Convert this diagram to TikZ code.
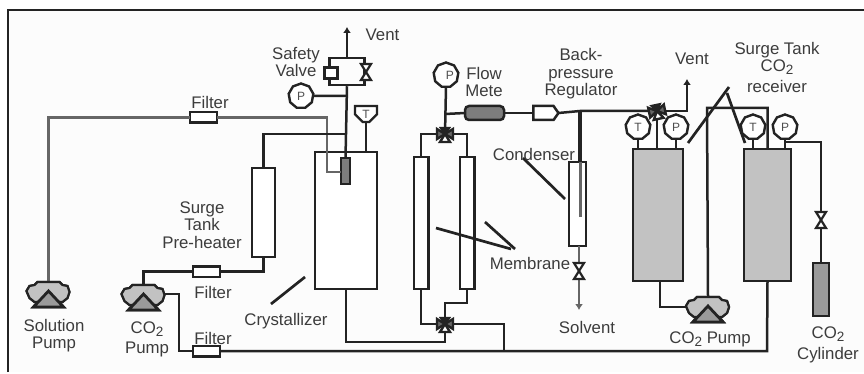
\documentclass[tikz,border=0pt]{standalone}
\usepackage{fontspec}
\setmainfont{Liberation Sans}
\usetikzlibrary{arrows.meta,shapes.geometric,shapes.misc,shapes.symbols}
\definecolor{ink}{HTML}{232323}
\definecolor{txt}{HTML}{3C3C3C}
\definecolor{lgray}{HTML}{C2C2C2}
\definecolor{mgray}{HTML}{9A9A9A}
\definecolor{pgray}{HTML}{666666}
\newcommand{\subtwo}{\raisebox{-0.35ex}{\fontsize{13.5}{13.5}\selectfont 2}}
\tikzset{
  x=1pt,y=-1pt,
  pipe/.style={draw=ink,line width=2.5pt,line join=miter},
  gpipe/.style={draw=pgray,line width=2.6pt},
  leader/.style={draw=ink,line width=2.7pt},
  ventarrow/.style={-{Latex[width=8pt,length=6pt]}},
  box/.style={draw=ink,line width=2.5pt,inner sep=0pt,outer sep=0pt,fill=white,rectangle},
  tank/.style={box,fill=lgray},
  filterbox/.style={box,minimum width=27pt,minimum height=10.5pt},
  label/.style={text=txt,font=\fontsize{16.8}{17.5}\selectfont,align=center,inner sep=0pt},
  gauge/.style={draw=ink,line width=2.4pt,fill=white,regular polygon,regular polygon sides=9,inner sep=0pt,outer sep=0pt,minimum size=25pt,text=ink!80,font=\fontsize{12}{12}\selectfont},
  shield/.style={draw=ink,line width=2.4pt,fill=white,chamfered rectangle,chamfered rectangle corners={south west,south east},chamfered rectangle xsep=5pt,chamfered rectangle ysep=5pt,inner sep=0pt,outer sep=0pt,minimum width=22pt,minimum height=16pt,text=ink!80,font=\fontsize{12}{12}\selectfont},
  pump/.pic={
    \coordinate (-top) at (0,0);
    \coordinate (-left) at (-21,10);
    \coordinate (-right) at (21,9);
    \draw[draw=ink,line width=2.2pt,fill=lgray] (-11,0) -- (11,0) -- (14,3) -- (19,4) -- (21,10) -- (19,16) -- (14,20) -- (-14,20) -- (-19,16) -- (-22,9) -- (-19,4) -- (-14,3) -- cycle;
    \draw[draw=ink,line width=2.8pt,fill=mgray,line join=miter] (0,9) -- (15,25) -- (-15,25) -- cycle;
  },
  vvalve/.pic={
    \draw[draw=ink,line width=2.2pt,fill=white,line join=miter] (-5,-8) -- (5,-8) -- (-5,8) -- (5,8) -- cycle;
  },
  threeway/.pic={
    \draw[draw=ink,line width=2.4pt,fill=pgray,line join=miter] (-8,-5) -- (8,5) -- (8,-5) -- (-8,5) -- cycle;
    \draw[draw=ink,line width=2.4pt,fill=white,line join=miter] (0,0) -- (5,8) -- (-5,8) -- cycle;
    \draw[draw=ink,line width=2.4pt,fill=ink] (0,0) -- (4,-6) -- (-4,-6) -- cycle;
  },
}
\begin{document}
\begin{tikzpicture}
\useasboundingbox (0,0) rectangle (864,374);
\fill[white] (0,0) rectangle (864,374);
\fill[black!1] (8,10) rectangle (864,372);
\draw[draw=ink,line width=2.8pt] (8,372) -- (8,10) -- (864,10);

% equipment
\node[box,minimum width=23pt,minimum height=89pt] (heater) at (263.5,212.5) {};
\node[box,minimum width=62pt,minimum height=137pt] (cryst) at (346,220.5) {};
\node[box,fill=pgray!85,minimum width=9pt,minimum height=26pt] (inner) at (345.5,171) {};
\node[draw=ink,line width=2.5pt,rectangle,inner sep=0pt,minimum width=35pt,minimum height=27pt] (loop) at (347,71.5) {};
\node[box,minimum width=14.5pt,minimum height=132pt] (memL) at (421,223) {};
\node[box,minimum width=14.5pt,minimum height=132pt] (memR) at (467,223) {};
\node[box,minimum width=17pt,minimum height=84pt] (cond) at (577.5,204) {};
\node[tank,minimum width=50pt,minimum height=132pt] (tankA) at (658,215) {};
\node[tank,minimum width=47pt,minimum height=132pt] (tankB) at (767.5,215) {};
\node[box,fill=mgray,minimum width=16pt,minimum height=53pt] (cyl) at (821,289.5) {};
\node[filterbox] (fA) at (203.5,117.5) {};
\node[filterbox] (fB) at (206.5,271.5) {};
\node[filterbox] (fC) at (206.5,351) {};
\node[box,fill=pgray!85,rounded corners=4pt,minimum width=39pt,minimum height=14pt] (flow) at (484.5,113) {};
\node[box,signal,signal to=east,signal pointer angle=110,minimum width=25pt,minimum height=14pt] (bpr) at (543.5,113) {};

% gauges
\node[gauge] (gA) at (301,96) {P};
\node[shield] (gB) at (366,114) {T};
\node[gauge] (gC) at (446,75) {\raisebox{-1.4ex}{\hspace{1.2ex}P}};
\node[gauge] (gD) at (638,127) {T};
\node[gauge] (gE) at (676,127) {P};
\node[gauge] (gF) at (753,127) {T};
\node[gauge] (gG) at (785,127) {P};

% junctions and valve positions
\coordinate (vA) at (366,72);
\coordinate (vB) at (445,134);
\coordinate (vC) at (445,324);
\coordinate (vD) at (657,111);
\coordinate (vE) at (579,271);
\coordinate (vF) at (821,220);
\coordinate (jA) at (347,134);
\coordinate (jB) at (347,96);
\coordinate (jC) at (445,114);
\coordinate (jD) at (580,111);
\coordinate (jE) at (327,172);
\coordinate (jF) at (179,351);
\coordinate (jG) at (767,351);
\coordinate (jH) at (504,351);
\coordinate (jI) at (707,108);
\coordinate (jJ) at (823,142);
\coordinate (jK) at (445,303);
\coordinate (ventA) at (347,27);
\coordinate (ventB) at (687,79);
\coordinate (solv) at (579,310);
\coordinate (stem) at (580,217);

% pumps
\pic (pS) at (48.5,282) {pump};
\pic (pC) at (143.5,285) {pump};
\pic (pT) at (708,297) {pump};

% pipes
\draw[gpipe] (fA.west) -| (pS-top);
\draw[gpipe] (fA.east) -| (jE) -- (inner.west |- jE);
\draw[pipe] (heater.north) |- (jA);
\draw[pipe,ventarrow] (loop.north) -- (ventA);
\draw[pipe] (loop.south) -- (inner.north);
\draw[pipe] (gA.east) -- (jB);
\draw[pipe] (gB.south) -- (gB.south |- cryst.north);
\draw[pipe] (heater.south) |- (fB.east);
\draw[pipe] (fB.west) -| (pC-top);
\draw[pipe] (pC-right) -| (jF) -- (fC.west);
\draw[pipe] (fC.east) -- (jG) -- (tankB.south);
\draw[pipe] (cryst.south) |- (vC |- 0,342) -- (vC);
\draw[pipe] (gC.south) -- (vB);
\draw[pipe] (jC) -- (flow.west);
\draw[pipe] (flow.east) -- (bpr.west);
\draw[pipe] (bpr.east) -- (jD) -- (vD);
\draw[pipe,ventarrow] (vD) -| (ventB);
\draw[pipe] (vB) -| (memR.north);
\draw[pipe] (vB) -| (memL.north);
\draw[pipe] (memL.south) |- (vC);
\draw[pipe] (memR.south) |- (jK) -- (vC);
\draw[pipe] (vC) -| (jH);
\draw[draw=ink,line width=4.6pt] (jD) -- (jD |- cond.north);
\draw[draw=pgray,line width=3pt] (jD |- cond.north) -- (stem);
\draw[gpipe,ventarrow] (cond.south -| vE) -- (solv);
\draw[pipe] (vD) -- (vD |- tankA.north);
\draw[pipe] (gD.south) -- (gD.south |- tankA.north);
\draw[pipe] (gE.south) -- (gE.south |- tankA.north);
\draw[pipe] (gF.south) -- (gF.south |- tankB.north);
\draw[pipe] (gG.south) -- (gG.south |- tankB.north);
\draw[pipe] (tankA.south -| 660,0) |- (pT-left);
\draw[pipe] (pT-top) -- (jI) -| (tankB.north);
\draw[pipe] (gG.south |- jJ) -| (cyl.north);

% redraw pump bodies over their pipe ends
\pic at (708,297) {pump};
\pic at (143.5,285) {pump};
\pic at (48.5,282) {pump};

% valves
\pic at (vA) {vvalve};
\pic at (vE) {vvalve};
\pic at (vF) {vvalve};
\pic at (vB) {threeway};
\pic at (vC) {threeway};
\pic[rotate=12] at (vD) {threeway};

% relief valve on safety line
\node[box,minimum width=13pt,minimum height=11pt] (relief) at (331,73) {};
\draw[draw=ink,line width=3pt] (relief.south west) -- (relief.south east);

% leaders
\coordinate (lA) at (271,304); \coordinate (lB) at (305,277);
\coordinate (lC) at (436,228); \coordinate (lD) at (511,249); \coordinate (lE) at (485,222); \coordinate (lF) at (515,249);
\coordinate (lG) at (523,158); \coordinate (lH) at (565,199);
\coordinate (lI) at (688,143); \coordinate (lJ) at (729,87); \coordinate (lK) at (727,93); \coordinate (lL) at (745,143);
\draw[leader] (lA) -- (lB);
\draw[leader] (lC) -- (lD);
\draw[leader] (lE) -- (lF);
\draw[leader] (lG) -- (lH);
\draw[leader] (lI) -- (lJ);
\draw[leader] (lK) -- (lL);

% labels
\node[label] (tA) at (210,102) {Filter};
\node[label] (tB) at (213,292) {Filter};
\node[label] (tC) at (213,338) {Filter};
\node[label] (tD) at (54,335.5) {Solution\\Pump};
\node[label] (tE) at (147,339.5) {CO\subtwo\\[3pt]Pump};
\node[label] (tF) at (202,225) {Surge\\Tank\\Pre-heater};
\node[label] (tG) at (286,321) {Crystallizer};
\node[label] (tH) at (296,62) {Safety\\Valve};
\node[label] (tI) at (382.5,35) {Vent};
\node[label] (tJ) at (484,82) {Flow\\Mete};
\node[label] (tK) at (581,74) {Back-\\pressure\\Regulator};
\node[label] (tL) at (534,154) {Condenser};
\node[label] (tM) at (530,263) {Membrane};
\node[label] (tN) at (587,327) {Solvent};
\node[label] (tO) at (710,339) {CO\subtwo{} Pump};
\node[label] (tP) at (692,59) {Vent};
\node[label] (tQ) at (777,67) {Surge Tank\\CO\subtwo\\[3pt]receiver};
\node[label] (tR) at (828,345) {CO\subtwo\\[3pt]Cylinder};
\end{tikzpicture}
\end{document}
